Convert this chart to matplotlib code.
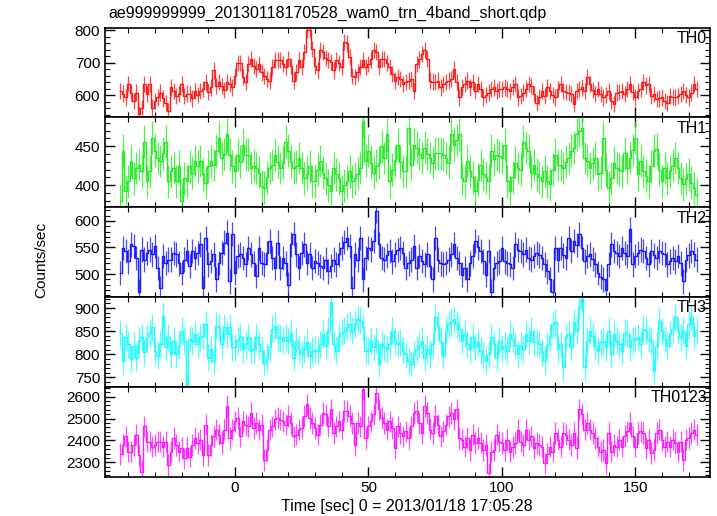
import numpy as np
import matplotlib
matplotlib.use("Agg")
import matplotlib.pyplot as plt
from matplotlib.ticker import MultipleLocator

plt.rcParams['font.family'] = ['Liberation Sans', 'DejaVu Sans']

title = "ae999999999_20130118170528_wam0_trn_4band_short.qdp"
xlabel = "Time [sec] 0 = 2013/01/18 17:05:28"
ylabel = "Counts/sec"

# 1 s bins, first bin centre at t = -43 s
t_first = -43
t_step = 1.0

th0 = [613, 605, 593, 634, 608, 582, 608, 541, 560, 634,
       603, 634, 562, 582, 593, 608, 590, 575, 551, 624,
       613, 598, 603, 634, 598, 605, 603, 590, 613, 600,
       613, 620, 640, 610, 624, 676, 629, 640, 629, 615,
       640, 635, 624, 660, 700, 700, 655, 640, 696, 712,
       690, 681, 696, 670, 660, 650, 645, 686, 707, 707,
       707, 696, 686, 712, 690, 645, 670, 707, 686, 733,
       800, 800, 743, 691, 676, 738, 733, 715, 707, 702,
       676, 707, 700, 686, 764, 759, 717, 660, 655, 670,
       686, 707, 686, 696, 710, 738, 733, 686, 712, 712,
       700, 686, 665, 645, 655, 650, 634, 640, 645, 650,
       613, 696, 710, 727, 738, 712, 645, 642, 640, 645,
       624, 634, 640, 645, 650, 681, 640, 593, 624, 635,
       645, 624, 640, 613, 634, 620, 593, 600, 608, 618,
       624, 613, 618, 618, 624, 618, 613, 625, 634, 593,
       598, 608, 620, 634, 629, 603, 577, 595, 613, 598,
       624, 613, 600, 593, 618, 634, 613, 610, 608, 603,
       572, 613, 620, 624, 613, 655, 634, 615, 603, 618,
       603, 593, 600, 613, 582, 572, 608, 610, 613, 603,
       618, 634, 610, 593, 613, 618, 640, 630, 634, 598,
       603, 588, 590, 593, 582, 577, 598, 595, 593, 598,
       603, 613, 600, 593, 608, 634, 618]

th1 = [380, 444, 392, 405, 431, 409, 422, 426, 418, 456,
       405, 418, 461, 444, 435, 431, 441, 456, 405, 418,
       422, 405, 424, 380, 409, 405, 424, 416, 431, 424,
       431, 414, 403, 424, 431, 426, 444, 461, 435, 440,
       465, 439, 424, 418, 439, 430, 452, 439, 439, 422,
       425, 422, 416, 399, 397, 410, 422, 426, 439, 430,
       422, 429, 456, 444, 430, 422, 424, 435, 422, 409,
       415, 424, 405, 405, 420, 431, 416, 409, 400, 392,
       422, 414, 409, 392, 400, 405, 418, 405, 409, 415,
       422, 482, 431, 444, 429, 416, 425, 429, 450, 435,
       465, 405, 420, 431, 452, 430, 418, 418, 473, 426,
       452, 448, 440, 435, 448, 440, 435, 429, 441, 441,
       441, 439, 435, 429, 465, 452, 458, 465, 409, 405,
       431, 418, 410, 392, 407, 426, 414, 410, 405, 444,
       433, 439, 437, 435, 452, 405, 392, 410, 429, 422,
       420, 456, 448, 444, 416, 426, 414, 410, 405, 418,
       405, 401, 420, 439, 426, 426, 422, 430, 435, 444,
       448, 465, 470, 473, 435, 431, 422, 428, 435, 414,
       416, 461, 420, 397, 409, 429, 422, 420, 418, 441,
       422, 435, 445, 461, 414, 431, 418, 412, 405, 424,
       444, 446, 420, 405, 422, 409, 418, 425, 435, 422,
       409, 401, 408, 414, 403, 396, 388]

th2 = [502, 549, 543, 524, 556, 553, 530, 467, 546, 527,
       540, 546, 537, 553, 511, 473, 534, 521, 527, 527,
       540, 537, 520, 502, 527, 543, 515, 543, 530, 540,
       556, 473, 568, 518, 525, 537, 490, 521, 540, 559,
       578, 486, 575, 502, 534, 537, 530, 518, 549, 537,
       520, 496, 549, 521, 518, 540, 562, 530, 511, 559,
       511, 530, 520, 480, 556, 575, 537, 511, 540, 556,
       521, 537, 511, 525, 521, 515, 511, 527, 505, 515,
       527, 518, 537, 549, 560, 568, 553, 473, 537, 527,
       568, 490, 530, 549, 546, 562, 619, 556, 530, 527,
       535, 543, 524, 537, 545, 549, 540, 511, 520, 527,
       553, 511, 534, 525, 518, 537, 515, 490, 568, 527,
       520, 518, 521, 527, 537, 556, 530, 521, 499, 511,
       490, 520, 534, 562, 550, 543, 524, 499, 543, 467,
       511, 520, 524, 549, 524, 520, 518, 511, 556, 545,
       543, 537, 546, 530, 527, 534, 540, 535, 530, 518,
       505, 490, 467, 549, 527, 549, 535, 530, 568, 543,
       562, 555, 575, 549, 524, 534, 537, 528, 518, 502,
       495, 490, 470, 518, 556, 543, 540, 534, 549, 540,
       534, 584, 518, 534, 540, 546, 543, 530, 518, 543,
       535, 530, 543, 540, 537, 518, 524, 530, 524, 534,
       520, 486, 527, 535, 543, 537, 527]

th3 = [845, 786, 837, 822, 790, 819, 793, 829, 837, 804,
       837, 845, 858, 808, 797, 822, 883, 815, 837, 800,
       829, 800, 819, 851, 829, 732, 833, 829, 844, 822,
       837, 840, 865, 793, 811, 786, 862, 858, 822, 858,
       844, 858, 815, 815, 830, 837, 811, 822, 837, 808,
       811, 837, 822, 808, 782, 793, 815, 855, 862, 837,
       835, 829, 837, 829, 847, 793, 829, 811, 800, 811,
       826, 797, 808, 810, 808, 822, 844, 819, 851, 912,
       822, 808, 837, 847, 851, 860, 865, 851, 865, 876,
       873, 858, 808, 808, 829, 815, 829, 779, 822, 815,
       811, 822, 851, 829, 822, 826, 808, 800, 786, 779,
       800, 811, 820, 829, 793, 811, 800, 822, 880, 862,
       829, 797, 851, 865, 870, 876, 865, 855, 829, 844,
       822, 811, 837, 815, 826, 808, 797, 786, 800, 837,
       822, 793, 829, 811, 819, 808, 844, 833, 820, 800,
       819, 811, 844, 829, 851, 826, 826, 822, 804, 786,
       820, 837, 865, 869, 811, 822, 772, 837, 844, 815,
       869, 851, 902, 920, 772, 829, 851, 840, 819, 808,
       826, 829, 815, 851, 800, 844, 829, 822, 808, 847,
       844, 815, 830, 833, 837, 822, 855, 851, 833, 829,
       764, 819, 873, 850, 833, 819, 844, 855, 880, 851,
       837, 851, 819, 865, 880, 840, 851]

th0123 = [2338, 2380, 2419, 2349, 2349, 2380, 2426, 2334, 2257, 2465,
          2395, 2395, 2372, 2380, 2395, 2395, 2372, 2395, 2288, 2349,
          2411, 2380, 2349, 2365, 2318, 2365, 2326, 2380, 2411, 2388,
          2403, 2334, 2472, 2334, 2380, 2419, 2449, 2426, 2388, 2449,
          2557, 2411, 2449, 2488, 2503, 2419, 2488, 2470, 2465, 2526,
          2457, 2480, 2449, 2472, 2311, 2357, 2449, 2465, 2496, 2503,
          2495, 2488, 2472, 2511, 2480, 2419, 2426, 2449, 2457, 2511,
          2565, 2503, 2480, 2457, 2426, 2472, 2526, 2519, 2465, 2542,
          2434, 2465, 2488, 2449, 2534, 2534, 2511, 2480, 2380, 2480,
          2465, 2634, 2411, 2465, 2488, 2519, 2619, 2542, 2503, 2480,
          2449, 2488, 2457, 2365, 2465, 2434, 2419, 2442, 2411, 2465,
          2526, 2534, 2480, 2434, 2557, 2526, 2449, 2434, 2511, 2472,
          2419, 2442, 2472, 2510, 2526, 2496, 2542, 2411, 2403, 2372,
          2411, 2357, 2426, 2388, 2411, 2390, 2357, 2380, 2249, 2349,
          2357, 2426, 2395, 2388, 2357, 2403, 2349, 2370, 2388, 2449,
          2395, 2380, 2449, 2403, 2419, 2365, 2388, 2380, 2372, 2295,
          2340, 2372, 2349, 2434, 2403, 2372, 2434, 2426, 2403, 2380,
          2434, 2365, 2542, 2519, 2449, 2480, 2450, 2434, 2411, 2372,
          2349, 2357, 2295, 2434, 2349, 2380, 2372, 2403, 2372, 2420,
          2442, 2480, 2419, 2372, 2434, 2442, 2434, 2365, 2403, 2342,
          2357, 2434, 2449, 2400, 2372, 2395, 2372, 2403, 2388, 2349,
          2395, 2311, 2403, 2411, 2434, 2449, 2426]

bands = ["TH0", "TH1", "TH2", "TH3", "TH0123"]
series = [th0, th1, th2, th3, th0123]
errs = [25, 21, 23, 29, 49]
colors = ["#ff1a1a", "#22ee22", "#1a1aff", "#1affff", "#ff1aff"]
ylims = [(532, 808), (372, 487), (457, 626), (730, 924), (2235, 2646)]
majors = [100, 50, 50, 50, 100]
minors = [20, 10, 10, 10, 20]

W, H = 717, 516
fig = plt.figure(figsize=(W / 100, H / 100), dpi=100)

left, right = 105, 710
top, bottom = 27.5, 476.5
ph = (bottom - top) / 5

for i in range(5):
    y = np.array(series[i], dtype=float)
    t = t_first + t_step * np.arange(len(y))
    ax = fig.add_axes([left / W, 1 - (top + (i + 1) * ph) / H,
                       (right - left) / W, ph / H])
    ax.errorbar(t, y, yerr=errs[i], fmt='none', ecolor=colors[i],
                elinewidth=0.9, capsize=0, alpha=0.8)
    ax.step(t, y, where='mid', color=colors[i], lw=1.0)
    ax.set_xlim(-48.75, 178.0)
    ax.set_ylim(*ylims[i])
    ax.xaxis.set_major_locator(MultipleLocator(50))
    ax.xaxis.set_minor_locator(MultipleLocator(10))
    ax.yaxis.set_major_locator(MultipleLocator(majors[i]))
    ax.yaxis.set_minor_locator(MultipleLocator(minors[i]))
    ax.tick_params(which='both', direction='in', top=True, right=True,
                   labelsize=11, colors='black')
    ax.tick_params(which='major', length=7, width=1.0)
    ax.tick_params(which='minor', length=3.5, width=0.8)
    for s in ax.spines.values():
        s.set_linewidth(1.2)
    if i < 4:
        ax.tick_params(labelbottom=False)
    ax.text(0.995, 0.96, bands[i], transform=ax.transAxes, ha='right',
            va='top', fontsize=11.5)

fig.text(108 / W, 1 - 13 / H, title, ha='left', va='center', fontsize=11.5)
fig.text(41 / W, 1 - 260 / H, ylabel, rotation=90, ha='center',
         va='center', fontsize=11)
fig.text(407 / W, 1 - 506 / H, xlabel, ha='center', va='center',
         fontsize=11.5)

fig.savefig("out.png", dpi=100)
